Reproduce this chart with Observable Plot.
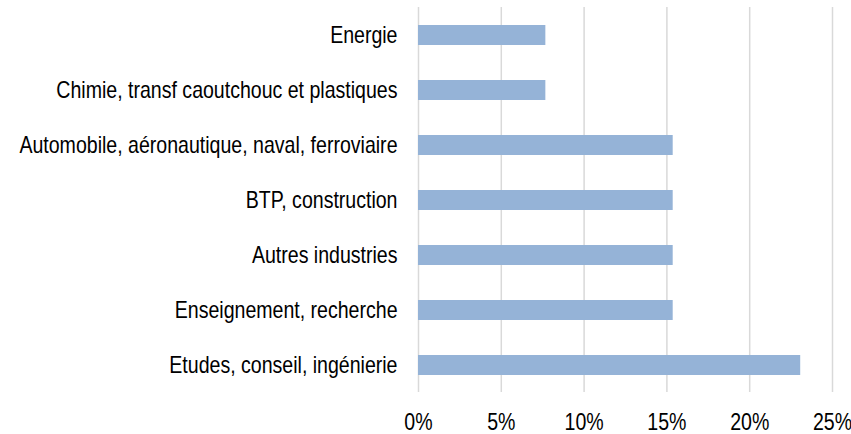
<!DOCTYPE html>
<html>
<head>
<meta charset="utf-8">
<script src="https://cdn.jsdelivr.net/npm/d3@7"></script>
<script src="https://cdn.jsdelivr.net/npm/@observablehq/plot@0.6"></script>
<style>
  html, body { margin: 0; padding: 0; background: #fff; }
  svg { display: block; }
</style>
</head>
<body>
<div id="chart"></div>
<script>
const categories = [
  "Energie",
  "Chimie, transf caoutchouc et plastiques",
  "Automobile, aéronautique, naval, ferroviaire",
  "BTP, construction",
  "Autres industries",
  "Enseignement, recherche",
  "Etudes, conseil, ingénierie"
];
const values = [0.0769, 0.0769, 0.1538, 0.1538, 0.1538, 0.1538, 0.2308];
const xTicks = [0, 0.05, 0.10, 0.15, 0.20, 0.25];

const data = categories.map((c, i) => ({category: c, value: values[i]}));
const font = "'Liberation Sans Narrow', 'Arial Narrow', 'Liberation Sans', Arial, sans-serif";

const chart = Plot.plot({
  width: 851,
  height: 434,
  marginLeft: 418,
  marginRight: 19,
  marginTop: 7,
  marginBottom: 42,
  style: {fontFamily: font, color: "#000", background: "#fff"},
  x: {domain: [0, 0.25], ticks: xTicks},
  y: {domain: categories, paddingInner: 0.645, paddingOuter: 0.3225},
  marks: [
    Plot.gridX(xTicks, {stroke: "#d9d9d9", strokeOpacity: 1, strokeWidth: 1.5}),
    Plot.barX(data, {x: "value", y: "category", fill: "#95b3d7"}),
    Plot.axisX(xTicks, {tickSize: 0, tickPadding: 20, fontSize: 24, tickFormat: d3.format(".0%"), label: null, fill: "#000"}),
    Plot.axisY({tickSize: 0, tickPadding: 21, fontSize: 24, label: null, fill: "#000"})
  ]
});
document.getElementById("chart").appendChild(chart);

// Emulate a narrow (condensed) face: squeeze labels horizontally around their anchors
chart.querySelectorAll('g[aria-label="y-axis tick label"] text, g[aria-label="x-axis tick label"] text').forEach(t => {
  const tr = t.getAttribute("transform") || "";
  t.setAttribute("transform", tr + " scale(0.815,1)");
});
</script>
</body>
</html>
